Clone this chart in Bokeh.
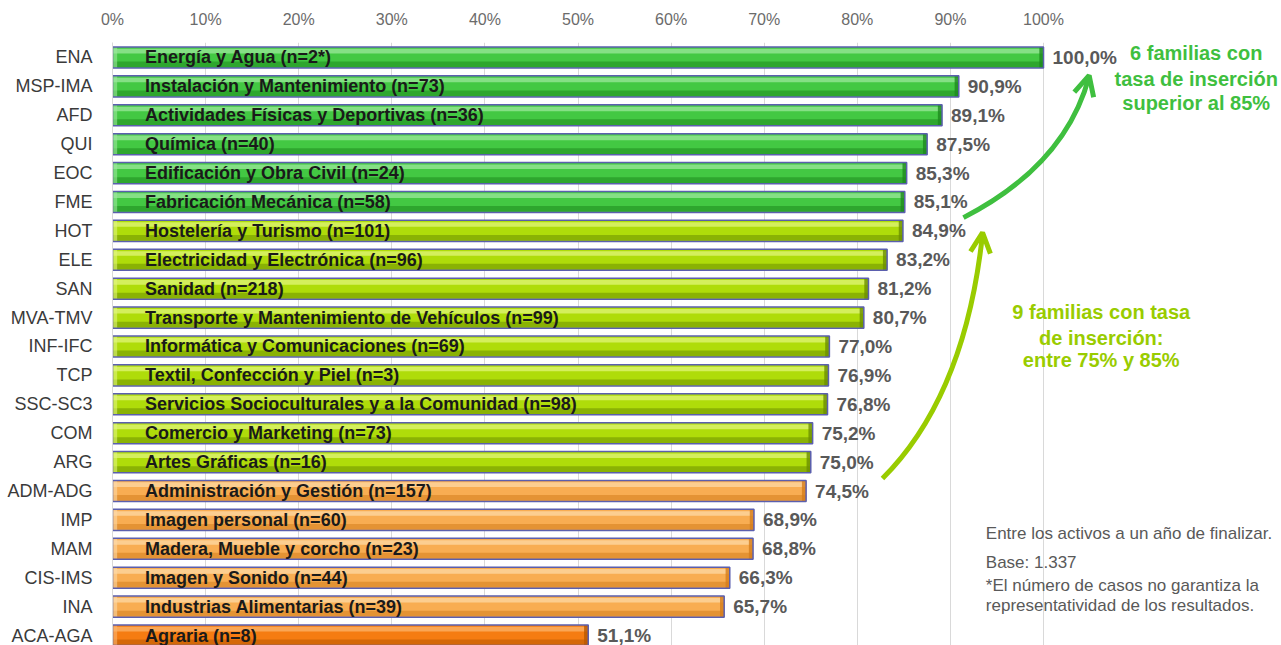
from bokeh.plotting import figure
from bokeh.models import Range1d, FixedTicker, ColumnDataSource, Arrow, OpenHead
from bokeh.core.properties import value
from bokeh.embed import file_html
from bokeh.resources import INLINE

# ---------------- data ----------------
codes = ["ENA", "MSP-IMA", "AFD", "QUI", "EOC", "FME", "HOT", "ELE", "SAN", "MVA-TMV",
         "INF-IFC", "TCP", "SSC-SC3", "COM", "ARG", "ADM-ADG", "IMP", "MAM", "CIS-IMS",
         "INA", "ACA-AGA"]
names = ["Energía y Agua (n=2*)", "Instalación y Mantenimiento (n=73)",
         "Actividades Físicas y Deportivas (n=36)", "Química (n=40)",
         "Edificación y Obra Civil (n=24)", "Fabricación Mecánica (n=58)",
         "Hostelería y Turismo (n=101)", "Electricidad y Electrónica (n=96)",
         "Sanidad (n=218)", "Transporte y Mantenimiento de Vehículos  (n=99)",
         "Informática y Comunicaciones (n=69)", "Textil, Confección y Piel (n=3)",
         "Servicios Socioculturales y a la Comunidad (n=98)", "Comercio y Marketing (n=73)",
         "Artes Gráficas (n=16)", "Administración y Gestión (n=157)",
         "Imagen personal (n=60)", "Madera, Mueble y corcho (n=23)",
         "Imagen y Sonido (n=44)", "Industrias Alimentarias (n=39)", "Agraria (n=8)"]
values = [100.0, 90.9, 89.1, 87.5, 85.3, 85.1, 84.9, 83.2, 81.2, 80.7, 77.0, 76.9, 76.8,
          75.2, 75.0, 74.5, 68.9, 68.8, 66.3, 65.7, 51.1]
x_ticks = [0, 10, 20, 30, 40, 50, 60, 70, 80, 90, 100]
x_tick_labels = ["0%", "10%", "20%", "30%", "40%", "50%", "60%", "70%", "80%", "90%", "100%"]

note_green = ["6 familias con", "tasa de inserción", "superior al 85%"]
note_yellow = ["9 familias con tasa", "de inserción:", "entre 75% y 85%"]
footnote = ["Entre los activos a un año de finalizar.", "Base: 1.337",
            "*El número de casos no garantiza la", "representatividad de los resultados."]

# ---------------- styling helpers ----------------
def band(v):
    if v >= 85:
        return ("#43c843", "#9be89b", "#1e8a1e")
    if v >= 75:
        return ("#afdc0a", "#e0f57a", "#6c8f00")
    if v >= 60:
        return ("#f8ad52", "#fdd9a6", "#d47d1c")
    return ("#f57c12", "#fbb46c", "#b85800")

rows = list(range(len(codes)))
main_c = [band(v)[0] for v in values]
light_c = [band(v)[1] for v in values]
dark_c = [band(v)[2] for v in values]
labels = [("%.1f%%" % v).replace(".", ",") for v in values]

src = ColumnDataSource(dict(
    y=rows, v=values, name=names, lab=labels, main=main_c, light=light_c, dark=dark_c,
    y_hi=[r - 0.22 for r in rows], y_lo=[r + 0.24 for r in rows],
    cap=[v - 0.45 for v in values], zero=[0] * len(rows), lcap=[0.5] * len(rows),
    txt_x=[3.5] * len(rows),
))

p = figure(width=1281, height=645, output_backend="svg", toolbar_location=None,
           x_range=Range1d(0, 125.56), y_range=Range1d(20.346, -0.519),
           x_axis_location="above",
           min_border_left=112, min_border_right=0, min_border_top=42, min_border_bottom=0)
p.outline_line_color = None
p.background_fill_color = "white"

# axes
p.xaxis.ticker = FixedTicker(ticks=x_ticks)
p.xaxis.major_label_overrides = {t: l for t, l in zip(x_ticks, x_tick_labels)}
p.xaxis.axis_line_color = None
p.xaxis.major_tick_line_color = None
p.xaxis.minor_tick_line_color = None
p.xaxis.major_label_standoff = 9
p.xaxis.major_label_text_font = "Liberation Sans"
p.xaxis.major_label_text_font_size = "16px"
p.xaxis.major_label_text_color = "#6b6b6b"

p.yaxis.ticker = FixedTicker(ticks=rows)
p.yaxis.major_label_overrides = {r: c for r, c in zip(rows, codes)}
p.yaxis.axis_line_color = "#d9d9d9"
p.yaxis.major_tick_line_color = None
p.yaxis.minor_tick_line_color = None
p.yaxis.major_label_standoff = 14
p.yaxis.major_label_text_font = "Liberation Sans"
p.yaxis.major_label_text_font_size = "18px"
p.yaxis.major_label_text_color = "#3a3a3a"

p.xgrid.ticker = FixedTicker(ticks=x_ticks)
p.xgrid.grid_line_color = "#d9d9d9"
p.ygrid.grid_line_color = None

# bars (3D-like)
H = 0.73
p.hbar(y="y", left=0, right="v", height=H, fill_color="main", line_color=None, source=src)
p.hbar(y="y_hi", left=0, right="v", height=0.16, fill_color="light", fill_alpha=0.75,
       line_color=None, source=src)
p.hbar(y="y_lo", left=0, right="v", height=0.2, fill_color="dark", fill_alpha=0.55,
       line_color=None, source=src)
p.hbar(y="y", left="cap", right="v", height=H, fill_color="dark", fill_alpha=0.8,
       line_color=None, source=src)
p.hbar(y="y", left="zero", right="lcap", height=H, fill_color="light", fill_alpha=0.6,
       line_color=None, source=src)
p.hbar(y="y", left=0, right="v", height=H, fill_alpha=0, line_color="#5b5fae",
       line_width=1.5, source=src)

# texts on bars
p.text(x="txt_x", y="y", text="name", source=src, text_font=value("Liberation Sans"),
       text_font_style="bold", text_font_size="18px", text_color="#1a1a1a",
       text_align="left", text_baseline="middle")
p.text(x="v", y="y", text="lab", source=src, x_offset=9, text_font=value("Liberation Sans"),
       text_font_style="bold", text_font_size="19px", text_color="#595959",
       text_align="left", text_baseline="middle")

# annotations
GREEN = "#3fbf3f"
YGREEN = "#99cc00"
p.text(x=[116.4] * 3, y=[-0.14, 0.73, 1.56], text=note_green,
       text_font=value("Liberation Sans"), text_font_style="bold", text_font_size="20px",
       text_color=GREEN, text_align="center", text_baseline="middle")
p.text(x=[106.2] * 3, y=[8.82, 9.69, 10.48], text=note_yellow,
       text_font=value("Liberation Sans"), text_font_style="bold", text_font_size="20px",
       text_color=YGREEN, text_align="center", text_baseline="middle")
p.text(x=[93.8] * 4, y=[16.47, 17.47, 18.27, 18.96], text=footnote,
       text_font=value("Liberation Sans"), text_font_size="17px",
       text_color="#595959", text_align="left", text_baseline="middle")

# curved arrows
p.quadratic(x0=[91.4], y0=[5.54], cx=[102.3], cy=[3.74], x1=[104.9], y1=[0.66],
            line_color=GREEN, line_width=5)
p.add_layout(Arrow(end=OpenHead(line_color=GREEN, line_width=5, size=20),
                   x_start=102.3, y_start=3.74, x_end=104.9, y_end=0.62, line_alpha=0))
p.quadratic(x0=[82.7], y0=[14.57], cx=[91.6], cy=[11.70], x1=[93.45], y1=[6.1],
            line_color=YGREEN, line_width=5)
p.add_layout(Arrow(end=OpenHead(line_color=YGREEN, line_width=5, size=20),
                   x_start=91.6, y_start=11.70, x_end=93.45, y_end=6.06, line_alpha=0))

open("out.html", "w").write(file_html(p, INLINE))
